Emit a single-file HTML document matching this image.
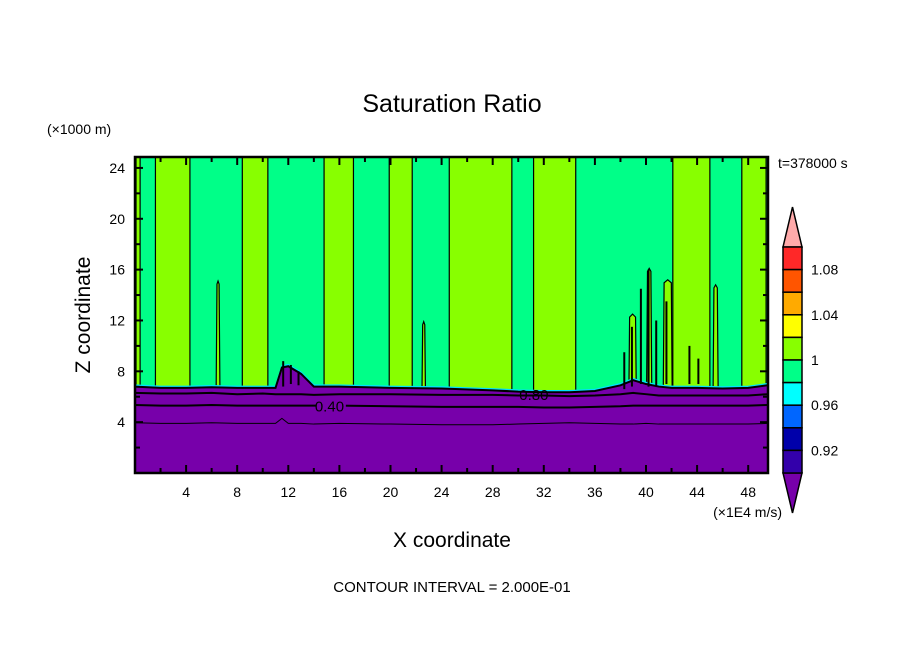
<!DOCTYPE html>
<html><head><meta charset="utf-8"><style>
html,body{margin:0;padding:0;background:#fff;}
svg{display:block;}
text{font-family:"Liberation Sans",sans-serif;fill:#000;}
</style></head><body>
<svg id="chart" width="904" height="654" viewBox="0 0 904 654">
<text x="452" y="112" font-size="25" text-anchor="middle">Saturation Ratio</text>
<text x="47" y="134" font-size="14">(×1000 m)</text>
<text x="778" y="168" font-size="14">t=378000 s</text>
<text transform="translate(90,315) rotate(-90)" font-size="21" text-anchor="middle">Z coordinate</text>
<text x="452" y="547" font-size="21" text-anchor="middle">X coordinate</text>
<text x="782" y="517" font-size="14" text-anchor="end">(×1E4 m/s)</text>
<text x="452" y="592" font-size="15" text-anchor="middle">CONTOUR INTERVAL = 2.000E-01</text>
<g id="plot"></g>
<g id="cbar"></g>
</svg>
<script>
const xTicks=[4,8,12,16,20,24,28,32,36,40,44,48];
const zTicks=[4,8,12,16,20,24];
// yellow-green (1.00-1.02) columns: [x0,x1,ztop]
const colX0=[0.08,1.6,8.4,14.8,19.9,24.6,31.2,42.1,47.5,6.3,22.4,45.2,40.0,41.3,38.6];
const colX1=[0.4,4.3,10.4,17.1,21.7,29.5,34.5,45.0,49.4,6.7,22.8,45.7,40.5,42.1,39.3];
const colTop=[25,25,25,25,25,25,25,25,25,15.1,11.9,14.8,16.1,15.2,12.5];
// purple (dry) top surface
const baseX=[0,2,4,6,8,10,11,11.5,12,13,14,16,20,24,28,30,32,34,36,38,39,40,41,42,44,46,48,49.5];
const baseZ=[6.8,6.7,6.7,6.75,6.7,6.7,6.7,8.3,8.4,7.8,6.8,6.8,6.7,6.65,6.5,6.4,6.35,6.35,6.45,6.9,7.3,7.0,6.8,6.7,6.7,6.65,6.7,6.9];
// contour lines below the surface
const c1Z=[6.3,6.25,6.25,6.3,6.2,6.25,6.2,6.2,6.2,6.2,6.15,6.2,6.2,6.15,6.15,6.1,6.1,6.05,6.1,6.2,6.3,6.2,6.1,6.1,6.1,6.1,6.1,6.2];
const c2Z=[5.35,5.3,5.3,5.35,5.3,5.3,5.3,5.3,5.3,5.3,5.3,5.3,5.25,5.2,5.2,5.2,5.15,5.15,5.2,5.25,5.3,5.3,5.3,5.3,5.3,5.3,5.3,5.35];
const c3Z=[3.95,3.9,3.9,3.95,3.9,3.9,3.9,4.3,3.9,3.9,3.85,3.9,3.85,3.8,3.8,3.85,3.9,3.95,3.9,3.85,3.85,3.9,3.85,3.85,3.85,3.85,3.85,3.9];
// convective black scribbles: [x, zbottom, ztop]
const stormX=[11.6,12.2,12.8,38.3,38.9,39.6,40.2,40.8,41.6,43.4,44.1];
const stormZ0=[6.8,7.0,6.9,6.6,6.8,7.0,6.8,6.8,7.0,7.0,7.0];
const stormZ1=[8.8,8.5,8.0,9.5,11.5,14.5,16.0,12.0,13.5,10.0,9.0];
const cbLabels=["1.08","1.04","1","0.96","0.92"];
const cbColors=["#ff2828","#ff5500","#ffaa00","#ffff00","#88ff00","#00ff88","#00ffff","#0066ff","#0000aa","#3300aa"];

const NS="http://www.w3.org/2000/svg";
const L=135,R=768,T=157,B=473;
const xMax=49.55, zMax=24.86;
const sx=x=>L+(x/xMax)*(R-L);
const sy=z=>B-(z/zMax)*(B-T);
const plot=document.getElementById('plot');
function mk(tag,at,parent){const e=document.createElementNS(NS,tag);for(const k in at)e.setAttribute(k,at[k]);(parent||plot).appendChild(e);return e;}

let e=mk('rect',{x:L,y:T,width:R-L,height:B-T,fill:'#00ff88'});


for(let i=0;i<colX0.length;i++){
  const x0=sx(colX0[i]),x1=sx(colX1[i]);
  let d;
  if(colTop[i]>=zMax){d=`M${x0},${B} L${x0},${T} L${x1},${T} L${x1},${B} Z`;}
  else{const top=sy(colTop[i]);d=`M${x0},${B} L${x0+1.5},${top+3} L${(x0+x1)/2},${top} L${x1-1.5},${top+3} L${x1},${B} Z`;}
  e=mk('path',{d:d,fill:'#88ff00',stroke:'#000','stroke-width':1.2});
  
  
}
function poly(zs){return baseX.map((x,i)=>`${sx(x)},${sy(zs[i])}`).join(' ');}
e=mk('polygon',{points:`${sx(0)},${B} `+poly(baseZ)+` ${sx(xMax)},${B}`,fill:'#7700aa'});


e=mk('polyline',{points:baseX.map((x,i)=>`${sx(x)},${sy(baseZ[i])-1.5}`).join(' '),fill:'none',stroke:'#00e0ff','stroke-width':1.5});


e=mk('polyline',{points:poly(baseZ),fill:'none',stroke:'#000','stroke-width':2});


e=mk('polyline',{points:poly(c1Z),fill:'none',stroke:'#000','stroke-width':2});


e=mk('polyline',{points:poly(c2Z),fill:'none',stroke:'#000','stroke-width':2});


e=mk('polyline',{points:poly(c3Z),fill:'none',stroke:'#000','stroke-width':1});


for(let i=0;i<stormX.length;i++){
  e=mk('line',{x1:sx(stormX[i]),x2:sx(stormX[i]),y1:sy(stormZ0[i]),y2:sy(stormZ1[i]),stroke:'#000','stroke-width':2});
  
  
}
e=mk('rect',{x:sx(14)+2,y:sy(5.3)-6,width:30,height:11,fill:'#7700aa'});
e=mk('text',{x:sx(14)+1,y:sy(5.3)+6,'font-size':15});e.textContent='0.40';


e=mk('text',{x:sx(30)+1,y:sy(6.2)+6,'font-size':15});e.textContent='0.80';


// ticks
for(let v=2;v<xMax;v+=2){const maj=v%4===0,len=maj?8:5;
  mk('line',{x1:sx(v),x2:sx(v),y1:B,y2:B-len,stroke:'#000','stroke-width':2});
  mk('line',{x1:sx(v),x2:sx(v),y1:T,y2:T+len,stroke:'#000','stroke-width':2});}
for(let v=2;v<zMax;v+=2){const maj=v%4===0,len=maj?8:5;
  mk('line',{x1:L,x2:L+len,y1:sy(v),y2:sy(v),stroke:'#000','stroke-width':2});
  mk('line',{x1:R,x2:R-len,y1:sy(v),y2:sy(v),stroke:'#000','stroke-width':2});}
e=mk('rect',{x:L,y:T,width:R-L,height:B-T,fill:'none',stroke:'#000','stroke-width':2.5});


xTicks.forEach(v=>{e=mk('text',{x:sx(v),y:B+24,'font-size':14,'text-anchor':'middle'});e.textContent=v;
  
  });
zTicks.forEach(v=>{e=mk('text',{x:125,y:sy(v)+5,'font-size':14,'text-anchor':'end'});e.textContent=v;
  
  });
// colorbar
const cb=document.getElementById('cbar');
const cx0=783,cx1=802,ct=247,cbt=473,h=(cbt-ct)/cbColors.length;
e=mk('polygon',{points:`${cx0},${ct} ${(cx0+cx1)/2},207 ${cx1},${ct}`,fill:'#ffaaaa',stroke:'#000','stroke-width':1.5},cb);


e=mk('polygon',{points:`${cx0},${cbt} ${(cx0+cx1)/2},513 ${cx1},${cbt}`,fill:'#7700aa',stroke:'#000','stroke-width':1.5},cb);


cbColors.forEach((c,i)=>{e=mk('rect',{x:cx0,y:ct+i*h,width:cx1-cx0,height:h,fill:c,stroke:'#000','stroke-width':1.5},cb);
  
  });
cbLabels.forEach((t,i)=>{e=mk('text',{x:811,y:ct+(2*i+1)*h+5,'font-size':14},cb);e.textContent=t;
  
  });
</script>
</body></html>
